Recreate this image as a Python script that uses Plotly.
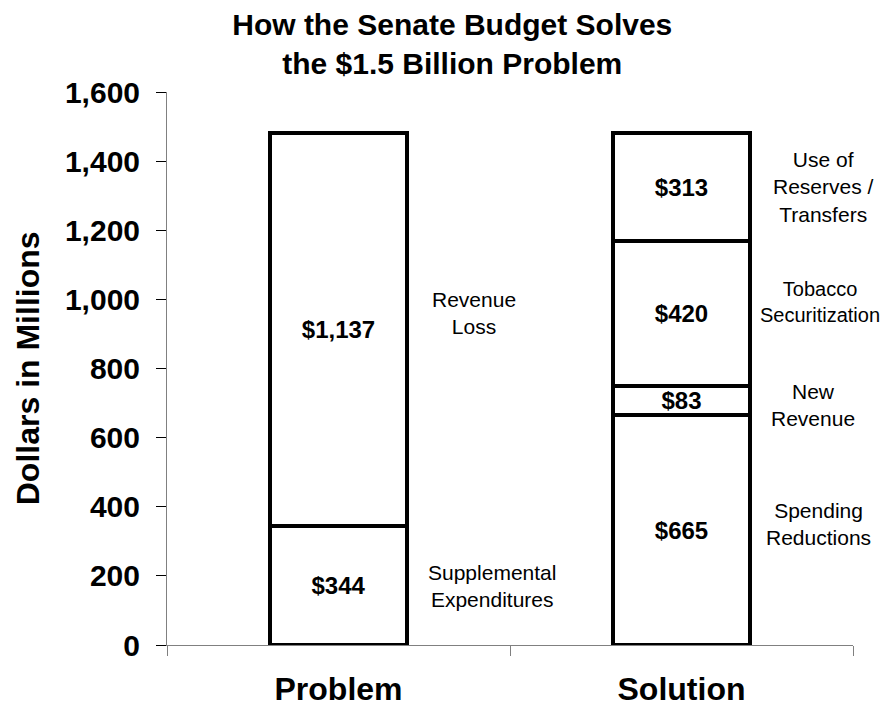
import plotly.graph_objects as go

# ---- data ----
categories = ["Problem", "Solution"]
segment_names = [
    "Supplemental<br>Expenditures",
    "Revenue<br>Loss",
    "Spending<br>Reductions",
    "New<br>Revenue",
    "Tobacco<br>Securitization",
    "Use of<br>Reserves /<br>Transfers",
]
segment_category = ["Problem", "Problem", "Solution", "Solution", "Solution", "Solution"]
segment_values = [344, 1137, 665, 83, 420, 313]
value_labels = ["$344", "$1,137", "$665", "$83", "$420", "$313"]
y_ticks = [0, 200, 400, 600, 800, 1000, 1200, 1400, 1600]

# ---- style ----
FONT = "Liberation Sans, Arial, sans-serif"
label_yshift = [0, 17, 6, -4, 12, 0]
label_xshift = [87, 91, 82, 87, 76, 89]

fig = go.Figure()
running = {c: 0 for c in categories}
for name, cat, val, lab, ys, xs in zip(segment_names, segment_category, segment_values,
                                      value_labels, label_yshift, label_xshift):
    base = running[cat]
    fig.add_trace(go.Bar(
        x=[cat], y=[val], name=name.replace("<br>", " "),
        marker=dict(color="white", line=dict(color="black", width=4)),
        text=[lab], textposition="inside", insidetextanchor="middle",
        constraintext="none",
        textfont=dict(family=FONT, size=24, color="black", weight="bold"),
        width=0.4, hoverinfo="name+y",
    ))
    fig.add_annotation(
        x=cat, y=base + val / 2, xref="x", yref="y",
        text=name, showarrow=False, xanchor="left", yanchor="middle",
        xshift=xs, yshift=ys, align="center",
        font=dict(family=FONT, size=21 if "Securitization" not in name else 20, color="black"),
    )
    running[cat] = base + val

fig.add_annotation(
    x=-0.203, y=0.5, xref="paper", yref="paper", text="<b>Dollars in Millions</b>",
    textangle=-90, showarrow=False, xanchor="center", yanchor="middle",
    font=dict(family=FONT, size=32, color="black"),
)

# page body has an 8px margin, so the figure is drawn 8px smaller
fig.update_layout(
    width=885, height=700,
    barmode="stack", showlegend=False,
    plot_bgcolor="white", paper_bgcolor="white",
    margin=dict(l=159, r=40, t=84, b=63, autoexpand=False),
    title=dict(
        text="<b>How the Senate Budget Solves<br>the $1.5 Billion Problem</b>",
        x=0.502, xref="container", xanchor="center",
        y=0.961, yref="container", yanchor="top",
        font=dict(family=FONT, size=30, color="black"),
    ),
    xaxis=dict(
        type="category", categoryorder="array", categoryarray=categories,
        range=[-0.5, 1.5], autorange=False,
        showline=True, linecolor="#808080", linewidth=1,
        ticks="outside", tickson="boundaries", ticklen=10, tickcolor="#808080",
        tickfont=dict(family=FONT, size=32, color="black", weight="bold"),
        ticklabelstandoff=16, showgrid=False, zeroline=False, automargin=False,
    ),
    yaxis=dict(
        range=[0, 1600], autorange=False, tickvals=y_ticks, tickformat=",",
        showline=True, linecolor="#808080", linewidth=1,
        ticks="outside", ticklen=10, tickcolor="black",
        tickfont=dict(family=FONT, size=30, color="black", weight="bold"),
        ticklabelstandoff=10, showgrid=False, zeroline=False, automargin=False,
    ),
)

fig.write_html("out.html")
